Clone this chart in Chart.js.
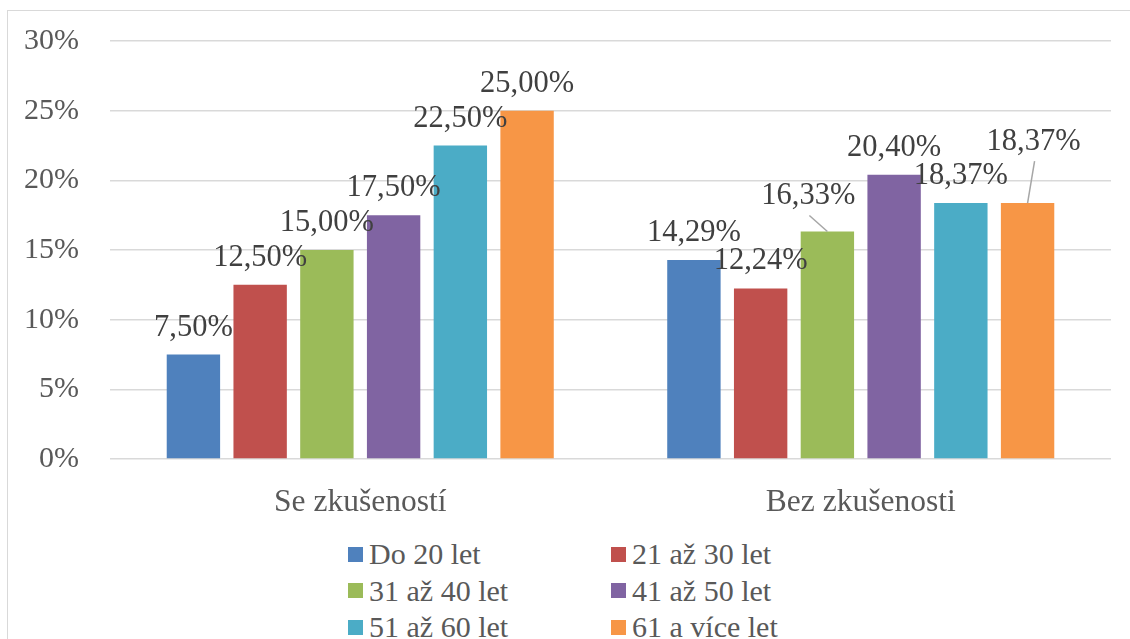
<!DOCTYPE html>
<html>
  <head>
    <meta charset="utf-8">
    <title>Věkové skupiny</title>
    <script src="https://cdn.jsdelivr.net/npm/chart.js@4.4.1/dist/chart.umd.min.js"></script>
    <style>
      body { margin: 0; width: 1130px; height: 639px; overflow: hidden; position: relative; background: #fff; }
      #frame { position: absolute; left: 7px; top: 10px; width: 1300px; height: 800px; border: 1px solid #d9d9d9; }
      #wrap { position: absolute; left: 0; top: 0; width: 1130px; height: 520px; }
      #legend {
        position: absolute; left: 348px; top: 536px;
        display: grid; grid-template-columns: 263px 263px; grid-auto-rows: 36.5px;
        font-family: 'Liberation Serif', serif; font-size: 30px; color: #595959;
      }
      #legend div { display: flex; align-items: center; white-space: nowrap; }
      #legend span.box { display: inline-block; width: 15px; height: 15px; margin-right: 6px; }
    </style>
  </head>
  <body>
    <div id="frame"></div>
    <div id="wrap"><canvas id="myChart" width="1130" height="520"></canvas></div>
    <div id="legend"></div>

    <script>
      var categories = ["Se zkušeností", "Bez zkušenosti"];
      var seriesNames = ["Do 20 let", "21 až 30 let", "31 až 40 let", "41 až 50 let", "51 až 60 let", "61 a více let"];
      var do20 = [7.5, 14.29];
      var od21do30 = [12.5, 12.24];
      var od31do40 = [15.0, 16.33];
      var od41do50 = [17.5, 20.4];
      var od51do60 = [22.5, 18.37];
      var nad61 = [25.0, 18.37];
      var yTicks = [0, 5, 10, 15, 20, 25, 30];

      var colors = ["#4F81BD", "#C0504D", "#9BBB59", "#8064A2", "#4BACC6", "#F79646"];
      // label nudges [dx, dy, leader line] where labels were moved by hand
      var labelShift = {
        "2-1": [-19, -8, true],
        "5-1": [6, -34, true]
      };

      var font = "'Liberation Serif', serif";
      Chart.defaults.font.family = font;
      var allSeries = [do20, od21do30, od31do40, od41do50, od51do60, nad61];

      var datasets = allSeries.map(function (vals, i) {
        return {
          label: seriesNames[i],
          data: vals,
          backgroundColor: colors[i],
          borderWidth: 0,
          categoryPercentage: 0.8,
          barPercentage: 0.8
        };
      });

      function fmt(v) {
        return v.toFixed(2).replace(".", ",") + "%";
      }

      var valueLabels = {
        id: "valueLabels",
        afterDatasetsDraw: function (chart) {
          var ctx = chart.ctx;
          ctx.save();
          ctx.font = "30.5px " + font;
          ctx.fillStyle = "#404040";
          ctx.textAlign = "center";
          ctx.textBaseline = "alphabetic";
          chart.data.datasets.forEach(function (ds, di) {
            var meta = chart.getDatasetMeta(di);
            meta.data.forEach(function (bar, j) {
              var s = labelShift[di + "-" + j] || [0, 0, false];
              var lx = bar.x + s[0];
              var ly = bar.y - 19 + s[1];
              if (s[2]) {
                ctx.strokeStyle = "#a6a6a6";
                ctx.lineWidth = 1.5;
                ctx.beginPath();
                ctx.moveTo(lx + 1, ly + 11);
                ctx.lineTo(bar.x, bar.y);
                ctx.stroke();
              }
              ctx.fillText(fmt(ds.data[j]), lx, ly);
            });
          });
          ctx.restore();
        }
      };

      var ctx = document.getElementById("myChart").getContext("2d");
      var myChart = new Chart(ctx, {
        type: "bar",
        data: { labels: categories, datasets: datasets },
        options: {
          responsive: false,
          animation: false,
          layout: { padding: { top: 41, right: 19, left: 0, bottom: 0 } },
          plugins: {
            legend: { display: false },
            tooltip: { enabled: false }
          },
          scales: {
            x: {
              grid: { display: false },
              border: { display: false },
              ticks: { font: { family: font, size: 31.5 }, color: "#595959", padding: 17 },
              afterFit: function (scale) { scale.height = 61; }
            },
            y: {
              min: 0,
              max: 30,
              afterBuildTicks: function (scale) {
                scale.ticks = yTicks.map(function (v) { return { value: v }; });
              },
              grid: { color: "#d9d9d9", lineWidth: 1.5, drawTicks: false },
              border: { display: false },
              ticks: {
                font: { family: font, size: 30 },
                color: "#595959",
                padding: 31,
                callback: function (v) { return v + "%"; }
              },
              afterFit: function (scale) {
                scale.width = 110;
                scale.paddingTop = 0;
                scale.paddingBottom = 0;
              }
            }
          }
        },
        plugins: [valueLabels]
      });

      var legend = document.getElementById("legend");
      myChart.data.datasets.forEach(function (ds) {
        var item = document.createElement("div");
        var box = document.createElement("span");
        box.className = "box";
        box.style.background = ds.backgroundColor;
        item.appendChild(box);
        item.appendChild(document.createTextNode(ds.label));
        legend.appendChild(item);
      });
    </script>
  </body>
</html>
